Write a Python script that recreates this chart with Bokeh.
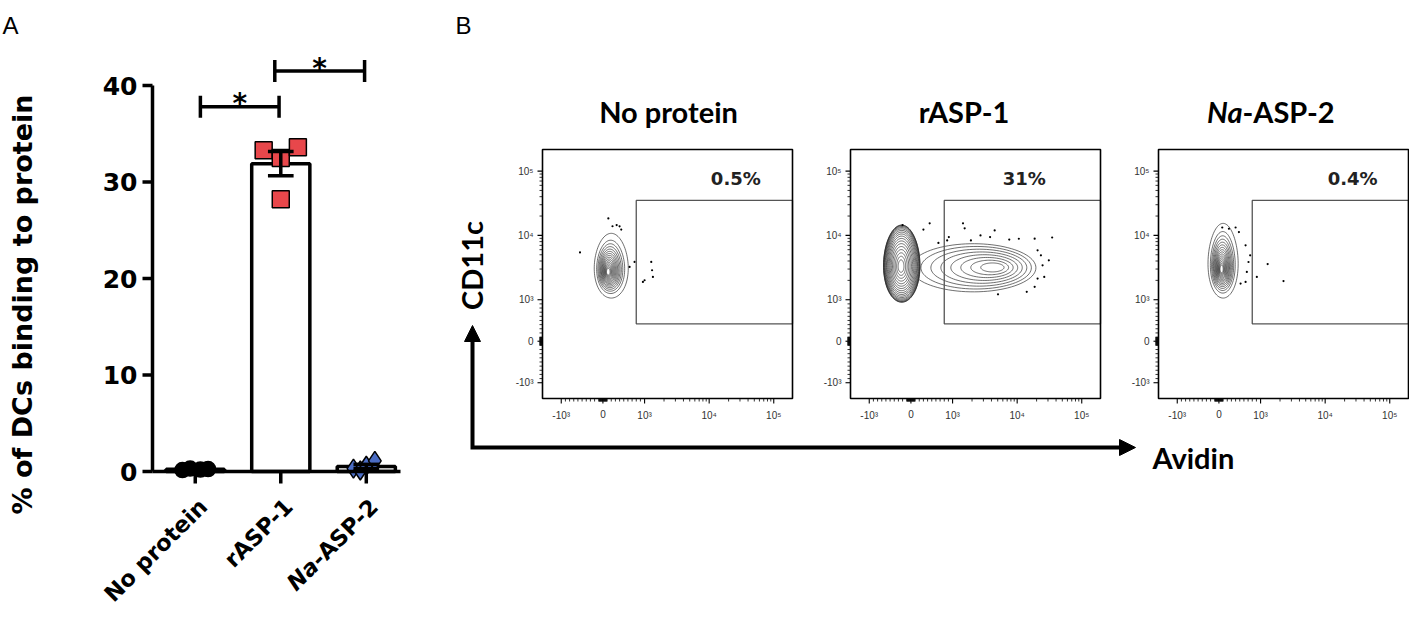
import numpy as np
from bokeh.plotting import figure
from bokeh.models import Range1d, Arrow, NormalHead
from bokeh.core.properties import value
from bokeh.embed import file_html
from bokeh.resources import INLINE

W, H = 1409, 606

# ---------------- Panel A data ----------------
groups = ["No protein", "rASP-1", "Na-ASP-2"]
vals_no_protein = [0.15, 0.30, 0.20, 0.25]
vals_rasp1 = [33.3, 32.5, 33.6, 28.2]
vals_naasp2 = [0.30, 0.10, 0.60, 1.10]
a_yticks = [0, 10, 20, 30, 40]
sig_left = [0, 1]
sig_right = [1, 2]
sig_y = [37.8, 41.5]
sig_text = ["*", "*"]

# ---------------- Panel B data (biexponential display units) ----------------
flow_titles = ["No protein", "rASP-1", "Na-ASP-2"]
flow_pct = ["0.5%", "31%", "0.4%"]
tick_vals = [-1000, 0, 1000, 10000, 100000]
tick_text = ["-10³", "0", "10³", "10⁴", "10⁵"]
gate_x_low = 800
gate_y_low = 420
gate_y_high = 35000

# contour populations: panel, outer ellipse, densest core, number of levels
pop_panel = [0, 1, 1, 2]
pop_cx = [0.20, 1.50, -0.22, 0.10]
pop_cy = [1.82, 1.77, 1.87, 1.94]
pop_hw = [0.44, 1.50, 0.46, 0.39]
pop_hh = [0.78, 0.58, 0.93, 0.90]
pop_core_x = [0.12, 2.06, -0.24, 0.06]
pop_core_y = [1.66, 1.78, 1.80, 1.72]
pop_levels = [16, 8, 18, 16]

ev1_x = [0.13, 0.23, 0.33, 0.40, 0.44, -0.55, 0.76, 1.16, 1.00, 0.96, 1.20, 1.18, 0.64]
ev1_y = [2.96, 2.77, 2.80, 2.77, 2.69, 2.14, 1.91, 1.91, 1.47, 1.43, 1.55, 1.71, 1.79]
ev2_x = [-0.20, 0.45, 0.30, 0.91, 1.25, 1.29, 1.67, 2.01, 2.36, 2.59, 2.97, 3.39, 0.66,
         3.04, 3.12, 3.31, 3.16, 3.20, 3.04, 2.97, 2.78, 2.09, 0.87, 1.44, 1.90]
ev2_y = [2.80, 2.84, 2.69, 2.51, 2.84, 2.72, 2.55, 2.67, 2.45, 2.47, 2.47, 2.50, 2.37,
         2.19, 2.07, 1.95, 1.83, 1.55, 1.51, 1.31, 1.19, 1.13, 2.43, 2.43, 2.51]
ev3_x = [0.08, 0.24, 0.40, 0.48, 0.64, 0.75, 0.71, 0.67, 0.64, 0.52, 0.91, 1.17, 1.55]
ev3_y = [2.74, 2.71, 2.74, 2.63, 2.31, 2.07, 1.91, 1.67, 1.43, 1.39, 1.55, 1.86, 1.45]


def biex(v):
    v = np.asarray(v, dtype=float)
    a = np.abs(v)
    return np.where(a <= 1000, v / 1000.0,
                    np.sign(v) * (1 + 1.55 * np.log10(np.maximum(a, 1) / 1000.0)))


minor_vals = (list(range(-900, 0, 100)) + list(range(100, 1000, 100)) +
              list(range(2000, 10000, 1000)) + list(range(20000, 100000, 10000)) +
              list(range(-90, 0, 10)) + list(range(10, 100, 10)))

# ---------------- canvas ----------------
p = figure(width=W, height=H, x_range=Range1d(0, W), y_range=Range1d(0, H),
           min_border=0, toolbar_location=None, output_backend="svg",
           x_axis_type=None, y_axis_type=None)
p.outline_line_color = None
p.background_fill_color = "white"

BOLD = dict(text_font=value("DejaVu Sans"), text_font_style="bold")

# panel letters
p.text(x=[2, 455], y=[H - 25, H - 25], text=["A", "B"], text_font=value("Liberation Sans"),
       text_font_size="24px", text_align="left", text_baseline="alphabetic", text_color="black")

# ================= Panel A =================
AX0, AX1 = 152, 400
AY0, AY1 = 471, 85
ax = p.subplot(x_source=Range1d(-0.5, 2.4), y_source=Range1d(0, 40),
               x_target=Range1d(AX0, AX1), y_target=Range1d(H - AY0, H - AY1))
PXX = (AX1 - AX0) / 2.9
PXY = (AY0 - AY1) / 40.0

xpos = [0, 1, 2]
series = [vals_no_protein, vals_rasp1, vals_naasp2]
means = [float(np.mean(v)) for v in series]
sems = [float(np.std(v, ddof=1) / np.sqrt(len(v))) for v in series]

ax.vbar(x=xpos, top=means, bottom=0, width=0.68, fill_color="white",
        line_color="black", line_width=3.5)

offsets = [[-0.15, -0.06, 0.06, 0.15], [-0.2, 0.0, 0.2, 0.0], [-0.15, -0.07, 0.0, 0.1]]
markers = ["circle", "square", "diamond"]
mcolors = ["black", "#E8474B", "#4A6CC4"]
msizes = [15, 17, 19]
for i, vals in enumerate(series):
    ax.scatter(x=[xpos[i] + o for o in offsets[i]], y=vals, marker=markers[i],
               size=msizes[i], fill_color=mcolors[i], line_color="black", line_width=1.5)

lo = [m - s for m, s in zip(means, sems)]
hi = [m + s for m, s in zip(means, sems)]
ax.segment(x0=xpos, y0=lo, x1=xpos, y1=hi, line_color="black", line_width=3.5)
ax.segment(x0=[x - 0.15 for x in xpos], y0=hi, x1=[x + 0.15 for x in xpos], y1=hi,
           line_color="black", line_width=3.5)
ax.segment(x0=[x - 0.15 for x in xpos], y0=lo, x1=[x + 0.15 for x in xpos], y1=lo,
           line_color="black", line_width=3.5)

# axes
ax.line(x=[-0.5, -0.5], y=[0, 40], line_color="black", line_width=3.5)
ax.line(x=[-0.5, 2.4], y=[0, 0], line_color="black", line_width=3.5)
ax.segment(x0=[-0.5] * len(a_yticks), y0=a_yticks, x1=[-0.5 - 10 / PXX] * len(a_yticks),
           y1=a_yticks, line_color="black", line_width=3.5)
ax.text(x=[-0.5 - 15 / PXX] * len(a_yticks), y=a_yticks, text=[str(t) for t in a_yticks],
        text_align="right", text_baseline="middle", text_font_size="25px", **BOLD)
ax.segment(x0=xpos, y0=[0] * 3, x1=xpos, y1=[-12 / PXY] * 3, line_color="black", line_width=3.5)

ang = np.pi / 4
XFS = 22.5
lab_dx = 8 / PXX
lab_dy = -31 / PXY
ax.text(x=[xpos[0] + lab_dx, xpos[1] + lab_dx], y=[lab_dy, lab_dy], text=groups[:2],
        angle=ang, text_align="right", text_baseline="middle", text_font_size=f"{XFS}px", **BOLD)
# "Na-ASP-2" with italic genus abbreviation
tail_w = 3.755 * XFS  # px width of "-ASP-2"
jx = xpos[2] + lab_dx - tail_w * np.cos(ang) / PXX
jy = lab_dy - tail_w * np.sin(ang) / PXY
ax.text(x=[jx], y=[jy], text=["-ASP-2"], angle=ang, text_align="left", text_baseline="middle",
        text_font_size=f"{XFS}px", **BOLD)
ax.text(x=[jx], y=[jy], text=["Na"], angle=ang, text_align="right", text_baseline="middle",
        text_font_size=f"{XFS}px", text_font=value("DejaVu Sans"), text_font_style="bold italic")

# y axis title
p.text(x=[22], y=[H - 304], text=["% of DCs binding to protein"], angle=np.pi / 2,
       text_align="center", text_baseline="middle", text_font_size="27px", **BOLD)

# significance brackets
bx0 = [sig_left[0] + 0.06, sig_left[1] - 0.07]
bx1 = [sig_right[0] - 0.02, sig_right[1] - 0.02]
tick_h = 1.15
ax.segment(x0=bx0, y0=sig_y, x1=bx1, y1=sig_y, line_color="black", line_width=3.5)
ax.segment(x0=bx0, y0=[y - tick_h for y in sig_y], x1=bx0, y1=[y + tick_h for y in sig_y],
           line_color="black", line_width=3.5)
ax.segment(x0=bx1, y0=[y - tick_h for y in sig_y], x1=bx1, y1=[y + tick_h for y in sig_y],
           line_color="black", line_width=3.5)
ax.text(x=[(a + b) / 2 for a, b in zip(bx0, bx1)], y=[y + 0.3 for y in sig_y], text=sig_text,
        text_align="center", text_baseline="alphabetic", text_font_size="28px", **BOLD)

# ================= Panel B =================
FXS, FYS = (-1.45, 4.55), (-1.38, 4.62)
frame_left = [542, 850, 1158]
FW = 250
FT, FB = 149, 398
FX = FW / (FXS[1] - FXS[0])
FY = (FB - FT) / (FYS[1] - FYS[0])
pct_x = [3.19, 2.72, 3.21]
pct_y = 3.93
events = [(ev1_x, ev1_y), (ev2_x, ev2_y), (ev3_x, ev3_y)]
gammas = {0: 0.6, 1: 1.0, 2: 1.8, 3: 0.6}
squeeze = {0: 0.85, 1: 1.0, 2: 0.9, 3: 0.85}

maj = biex(tick_vals)
mnr = biex(minor_vals)
theta = np.linspace(0, 2 * np.pi, 90)

for i in range(3):
    s = p.subplot(x_source=Range1d(*FXS), y_source=Range1d(*FYS),
                  x_target=Range1d(frame_left[i], frame_left[i] + FW),
                  y_target=Range1d(H - FB, H - FT))

    # contours
    for k in range(len(pop_panel)):
        if pop_panel[k] != i:
            continue
        n = pop_levels[k]
        xs, ys = [], []
        for lv in range(n):
            t = lv / n
            sc = 1 - 0.93 * t ** gammas[k]
            cx = pop_core_x[k] + sc * (pop_cx[k] - pop_core_x[k])
            cy = pop_core_y[k] + sc * (pop_cy[k] - pop_core_y[k])
            hw = pop_hw[k] * sc * (1 - (1 - squeeze[k]) * (np.sin(theta) + 1) / 2)
            hh = pop_hh[k] * sc
            xs.append(list(cx + hw * np.cos(theta)))
            ys.append(list(cy + hh * np.sin(theta)))
        if k == 2:
            s.patch(x=xs[0], y=ys[0], fill_color="white", line_color=None)
        s.multi_line(xs=xs, ys=ys, line_color="#2a2a2a", line_width=0.8, line_alpha=0.85)

    ex, ey = events[i]
    s.scatter(x=ex, y=ey, size=2.2, marker="circle", fill_color="black", line_color=None)

    # gate
    s.quad(left=[float(biex(gate_x_low))], right=[FXS[1]], bottom=[float(biex(gate_y_low))],
           top=[float(biex(gate_y_high))], fill_color=None, line_color="#555555", line_width=1.3)

    # frame
    s.quad(left=[FXS[0]], right=[FXS[1]], bottom=[FYS[0]], top=[FYS[1]], fill_color=None,
           line_color="black", line_width=1.6)

    # ticks
    s.segment(x0=maj, y0=[FYS[0]] * len(maj), x1=maj, y1=[FYS[0] - 5 / FY] * len(maj),
              line_color="black", line_width=1.1)
    s.segment(x0=mnr, y0=[FYS[0]] * len(mnr), x1=mnr, y1=[FYS[0] - 3 / FY] * len(mnr),
              line_color="black", line_width=0.8)
    s.segment(x0=[FXS[0]] * len(maj), y0=maj, x1=[FXS[0] - 5 / FX] * len(maj), y1=maj,
              line_color="black", line_width=1.1)
    s.segment(x0=[FXS[0]] * len(mnr), y0=mnr, x1=[FXS[0] - 3 / FX] * len(mnr), y1=mnr,
              line_color="black", line_width=0.8)
    s.text(x=maj, y=[FYS[0] - 11 / FY] * len(maj), text=tick_text, text_align="center",
           text_baseline="top", text_font=value("Liberation Sans"), text_font_size="10px",
           text_color="#333333")
    s.text(x=[FXS[0] - 9 / FX] * len(maj), y=maj, text=tick_text, text_align="right",
           text_baseline="middle", text_font=value("Liberation Sans"), text_font_size="10px",
           text_color="#333333")

    s.text(x=[pct_x[i]], y=[pct_y], text=[flow_pct[i]], text_align="center",
           text_baseline="middle", text_font_size="18px", text_color="#222222", **BOLD)

# panel titles
TB = H - 111
LATO = dict(text_font=value("Lato"), text_font_style="bold", text_font_size="29px")
p.text(x=[frame_left[0] + 126, frame_left[1] + 113.5], y=[TB, TB], text=flow_titles[:2],
       text_align="center", text_baseline="alphabetic", **LATO)
p.text(x=[frame_left[2] + 84], y=[TB], text=["-ASP-2"], text_align="left",
       text_baseline="alphabetic", **LATO)
p.text(x=[frame_left[2] + 84], y=[TB], text=["Na"], text_align="right",
       text_baseline="alphabetic", text_font=value("Lato"), text_font_style="bold italic",
       text_font_size="29px")

# CD11c / Avidin arrows
AXV = 472
AYH = 447
tipy = 325
tipx = frame_left[2] - 23
p.line(x=[AXV, AXV, tipx - 12], y=[H - (tipy + 12), H - AYH, H - AYH], line_color="black",
       line_width=4, line_join="miter")
p.add_layout(Arrow(end=NormalHead(size=16, fill_color="black", line_color="black"),
                   x_start=AXV, y_start=H - (tipy + 14), x_end=AXV, y_end=H - tipy,
                   line_color="black", line_width=4))
p.add_layout(Arrow(end=NormalHead(size=16, fill_color="black", line_color="black"),
                   x_start=tipx - 14, y_start=H - AYH, x_end=tipx, y_end=H - AYH,
                   line_color="black", line_width=4))
p.text(x=[AXV - 1], y=[H - 265], text=["CD11c"], angle=np.pi / 2, text_align="center",
       text_baseline="middle", **LATO)
p.text(x=[frame_left[2] - 6], y=[H - 457], text=["Avidin"], text_align="left",
       text_baseline="alphabetic", **LATO)

open("out.html", "w").write(file_html(p, INLINE))
